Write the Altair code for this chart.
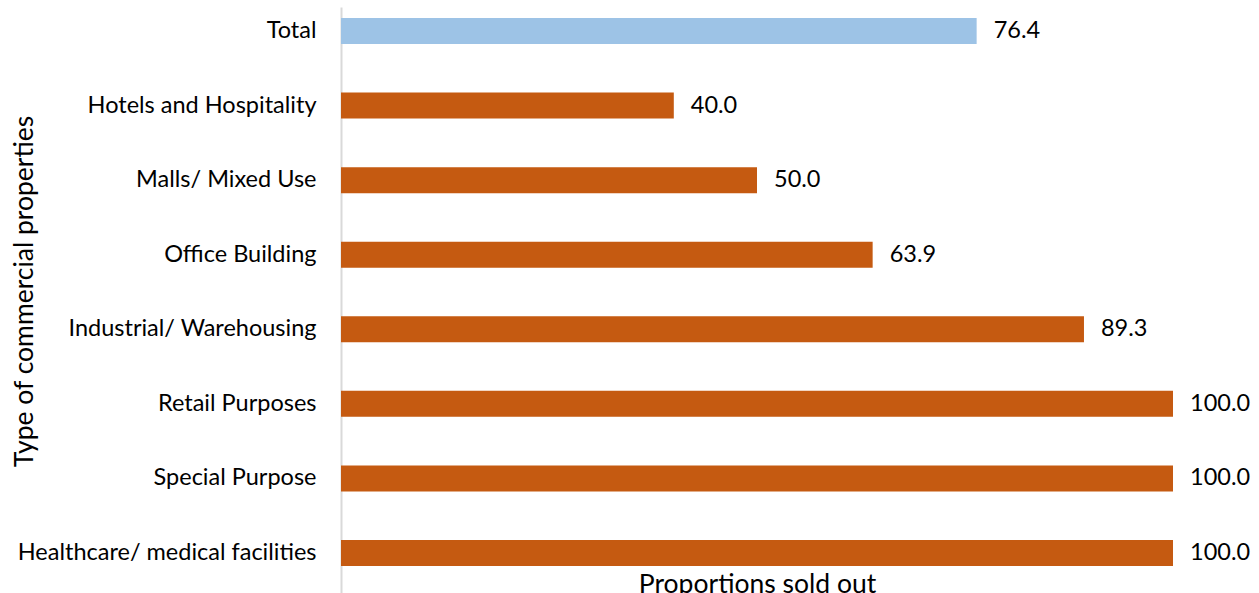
import altair as alt
import pandas as pd

categories = ["Total", "Hotels and Hospitality", "Malls/ Mixed Use", "Office Building",
              "Industrial/ Warehousing", "Retail Purposes", "Special Purpose",
              "Healthcare/ medical facilities"]
values = [76.4, 40.0, 50.0, 63.9, 89.3, 100.0, 100.0, 100.0]
groups = ["total", "type", "type", "type", "type", "type", "type", "type"]

df = pd.DataFrame({"cat": categories, "val": values, "grp": groups})
df["label"] = df["val"].map(lambda v: f"{v:.1f}")

FONT = "Lato"

y_enc = alt.Y("cat:N", sort=categories,
              scale=alt.Scale(paddingInner=0.651, paddingOuter=0.255, align=0.29),
              axis=alt.Axis(title="Type of commercial properties", labelFontSize=23.5,
                            labelColor="black", labelFont=FONT, labelPadding=25,
                            labelLimit=400, ticks=False, grid=False,
                            domainColor="#d9d9d9", domainWidth=2,
                            titleFont=FONT, titleFontSize=26.5, titleFontWeight="normal",
                            titleColor="black", titleAngle=-90, titleX=-309,
                            titleY=284, titleBaseline="alphabetic", titleAlign="center"))
x_enc = alt.X("val:Q", scale=alt.Scale(domain=[0, 100], nice=False),
              axis=alt.Axis(title="Proportions sold out", labels=False, ticks=False,
                            domain=False, grid=False, titleFont=FONT, titleFontSize=26.5,
                            titleFontWeight="normal", titleColor="black", titleY=-1,
                            titleBaseline="alphabetic"))

bars = alt.Chart(df).mark_bar().encode(
    y=y_enc, x=x_enc,
    color=alt.Color("grp:N", scale=alt.Scale(domain=["total", "type"],
                                             range=["#9dc3e6", "#c55a11"]), legend=None),
)
text = alt.Chart(df).mark_text(align="left", dx=17, fontSize=23.5, font=FONT,
                               color="black").encode(
    y=alt.Y("cat:N", sort=categories), x="val:Q", text="label:N")

chart = (bars + text).properties(
    width=832, height=586,
    background="white",
    autosize=alt.AutoSizeParams(type="none"),
    padding={"left": 341, "top": 7, "right": 86, "bottom": 0},
).configure_view(strokeWidth=0, stroke="transparent").configure_axis(grid=False)

chart.save("out.html", embed_options={"renderer": "svg", "actions": False})
